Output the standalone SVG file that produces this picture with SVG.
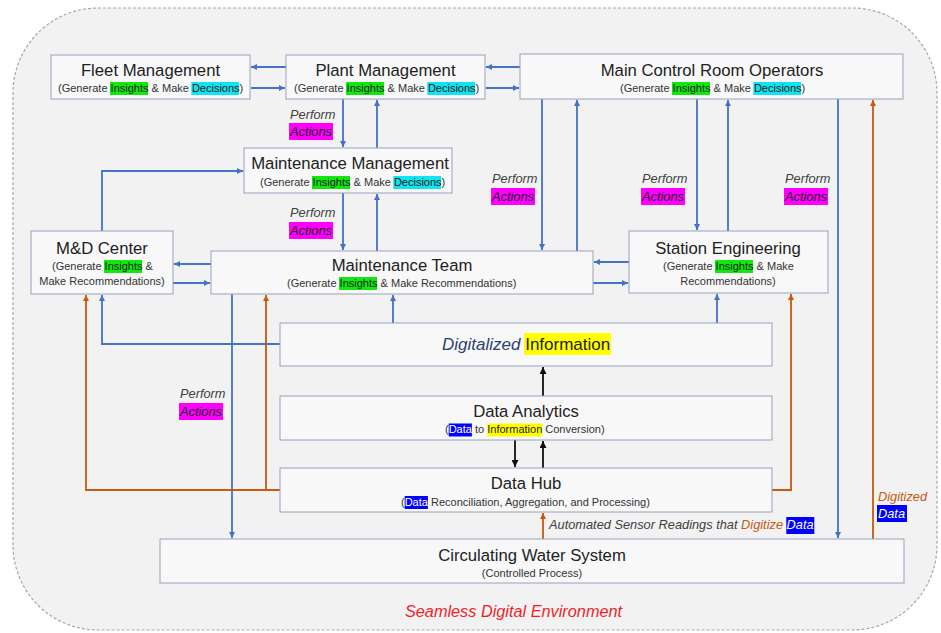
<svg xmlns="http://www.w3.org/2000/svg" width="941" height="633" viewBox="0 0 941 633">
<defs>
<style>
.bg{fill:#f2f2f2;stroke:#a8a8a8;stroke-width:1.2;stroke-dasharray:3 2}
.box{fill:#f8f8f8;stroke:#9aa2bd;stroke-width:1}
text{font-family:"Liberation Sans",Arial,sans-serif}
.t{font-size:16.7px;fill:#222;text-anchor:middle}
.s{font-size:11px;fill:#333}
.sm{font-size:11px;fill:#333;text-anchor:middle}
.lab{font-size:12.8px;font-style:italic;fill:#404040}
.act{fill:#1a1a1a}
.w{fill:#fff}
.hg{fill:#10E810}
.hc{fill:#10E4EE}
.hm{fill:#FF00FF}
.hy{fill:#FFFF00}
.hb{fill:#0000FF}
.b{stroke:#4472C4;stroke-width:1.8;fill:none;marker-end:url(#ab)}
.o{stroke:#C55A11;stroke-width:1.8;fill:none;marker-end:url(#ao)}
.k{stroke:#111;stroke-width:1.8;fill:none;marker-end:url(#ak)}
</style>
<marker id="ab" viewBox="0 0 6 6" refX="6" refY="3" markerWidth="6" markerHeight="6" markerUnits="userSpaceOnUse" orient="auto"><path d="M0,0 L6,3 L0,6 z" fill="#4472C4"/></marker>
<marker id="ao" viewBox="0 0 6 6" refX="6" refY="3" markerWidth="6" markerHeight="6" markerUnits="userSpaceOnUse" orient="auto"><path d="M0,0 L6,3 L0,6 z" fill="#C55A11"/></marker>
<marker id="ak" viewBox="0 0 6 6" refX="6" refY="3" markerWidth="7" markerHeight="7" markerUnits="userSpaceOnUse" orient="auto"><path d="M0,0 L6,3 L0,6 z" fill="#111"/></marker>
</defs>
<rect width="941" height="633" fill="#fff"/>
<rect id="environment" class="bg" x="13" y="8" width="924" height="622" rx="85" ry="85"/>

<g id="connectors">
<path class="b" d="M286,67 H251"/>
<path class="b" d="M251,88 H285"/>
<path class="b" d="M520,67 H486"/>
<path class="b" d="M486,88 H519"/>
<path class="b" d="M343,99 V147"/>
<path class="b" d="M377,148 V100"/>
<path class="b" d="M102,231 V171 H243"/>
<path class="b" d="M343,193 V250"/>
<path class="b" d="M377,251 V194"/>
<path class="b" d="M211,264 H174"/>
<path class="b" d="M173,283 H210"/>
<path class="b" d="M542,99 V250"/>
<path class="b" d="M577,251 V100"/>
<path class="b" d="M697,99 V230"/>
<path class="b" d="M728,231 V100"/>
<path class="b" d="M629,262 H594"/>
<path class="b" d="M593,283 H628"/>
<path class="b" d="M838,99 V538"/>
<path class="b" d="M393,323 V295"/>
<path class="b" d="M717,323 V294"/>
<path class="b" d="M280,344 H102 V295"/>
<path class="b" d="M232,294 V538"/>
<path class="o" d="M280,490 H86 V295"/>
<path class="o" d="M266,490 V295"/>
<path class="o" d="M772,490 H791 V294"/>
<path class="o" d="M543,539 V513"/>
<path class="o" d="M873,539 V100"/>
<path class="k" d="M543,396 V367"/>
<path class="k" d="M515,440 V467"/>
<path class="k" d="M543,468 V441"/>
</g>

<g id="fleet-management">
<rect class="box" x="51" y="55" width="199" height="44"/>
<text class="t" x="150.5" y="76">Fleet Management</text>
<rect class="hg" x="110" y="82" width="38" height="13"/>
<rect class="hc" x="191.3" y="82" width="47.7" height="13"/>
<text class="s" x="58" y="92">(Generate <tspan class="act">Insights</tspan> &amp; Make <tspan class="act">Decisions</tspan>)</text>
</g>

<g id="plant-management">
<rect class="box" x="286" y="55" width="199" height="44"/>
<text class="t" x="385.5" y="76">Plant Management</text>
<rect class="hg" x="346" y="82" width="38" height="13"/>
<rect class="hc" x="427.3" y="82" width="47.7" height="13"/>
<text class="s" x="294" y="92">(Generate <tspan class="act">Insights</tspan> &amp; Make <tspan class="act">Decisions</tspan>)</text>
</g>

<g id="main-control-room">
<rect class="box" x="520" y="54" width="383" height="45"/>
<text class="t" x="712" y="76">Main Control Room Operators</text>
<rect class="hg" x="672" y="82" width="38" height="13"/>
<rect class="hc" x="753.3" y="82" width="47.7" height="13"/>
<text class="s" x="620" y="92">(Generate <tspan class="act">Insights</tspan> &amp; Make <tspan class="act">Decisions</tspan>)</text>
</g>

<g id="maintenance-management">
<rect class="box" x="244" y="148" width="208" height="45"/>
<text class="t" x="350" y="169">Maintenance Management</text>
<rect class="hg" x="312" y="176" width="38" height="13"/>
<rect class="hc" x="393.3" y="176" width="47.7" height="13"/>
<text class="s" x="260" y="186">(Generate <tspan class="act">Insights</tspan> &amp; Make <tspan class="act">Decisions</tspan>)</text>
</g>

<g id="md-center">
<rect class="box" x="31" y="231" width="142" height="63"/>
<text class="t" x="102" y="254">M&amp;D Center</text>
<rect class="hg" x="104" y="260" width="38" height="13"/>
<text class="s" x="52" y="270">(Generate <tspan class="act">Insights</tspan> &amp;</text>
<text class="sm" x="102" y="285">Make Recommendations)</text>
</g>

<g id="maintenance-team">
<rect class="box" x="211" y="251" width="382" height="43"/>
<text class="t" x="402" y="271">Maintenance Team</text>
<rect class="hg" x="339" y="277" width="38" height="13"/>
<text class="s" x="287" y="287">(Generate <tspan class="act">Insights</tspan> &amp; Make Recommendations)</text>
</g>

<g id="station-engineering">
<rect class="box" x="629" y="231" width="199" height="62"/>
<text class="t" x="728" y="254">Station Engineering</text>
<rect class="hg" x="715" y="260" width="38" height="13"/>
<text class="s" x="663" y="270">(Generate <tspan class="act">Insights</tspan> &amp; Make</text>
<text class="sm" x="728" y="285">Recommendations)</text>
</g>

<g id="digitalized-information">
<rect class="box" x="280" y="323" width="492" height="43"/>
<rect class="hy" x="524" y="333" width="87" height="22"/>
<text x="442" y="350" style="font-size:17px"><tspan style="font-style:italic;fill:#2E4170">Digitalized</tspan><tspan fill="#222"> Information</tspan></text>
</g>

<g id="data-analytics">
<rect class="box" x="280" y="396" width="492" height="44"/>
<text class="t" x="526" y="417">Data Analytics</text>
<rect class="hb" x="448.7" y="423.5" width="23.2" height="13"/>
<rect class="hy" x="487.2" y="423.5" width="55" height="13"/>
<text class="s" x="445" y="433">(<tspan class="w">Data</tspan> to <tspan class="act">Information</tspan> Conversion)</text>
</g>

<g id="data-hub">
<rect class="box" x="280" y="468" width="492" height="44"/>
<text class="t" x="526" y="489">Data Hub</text>
<rect class="hb" x="404.7" y="496" width="23.2" height="13"/>
<text class="s" x="401" y="506">(<tspan class="w">Data</tspan> Reconciliation, Aggregation, and Processing)</text>
</g>

<g id="circulating-water-system">
<rect class="box" x="160" y="539" width="744" height="44"/>
<text class="t" x="532" y="561">Circulating Water System</text>
<text class="sm" x="532" y="577">(Controlled Process)</text>
</g>

<g id="labels">
<text class="lab" x="290" y="119">Perform</text>
<rect class="hm" x="289" y="123" width="44" height="17"/>
<text class="lab act" x="290" y="136">Actions</text>

<text class="lab" x="290" y="217">Perform</text>
<rect class="hm" x="289" y="222" width="44" height="17"/>
<text class="lab act" x="290" y="235">Actions</text>

<text class="lab" x="492" y="183">Perform</text>
<rect class="hm" x="491" y="188" width="44" height="17"/>
<text class="lab act" x="492" y="201">Actions</text>

<text class="lab" x="642" y="183">Perform</text>
<rect class="hm" x="641" y="188" width="44" height="17"/>
<text class="lab act" x="642" y="201">Actions</text>

<text class="lab" x="785" y="183">Perform</text>
<rect class="hm" x="784" y="188" width="44" height="17"/>
<text class="lab act" x="785" y="201">Actions</text>

<text class="lab" x="180" y="398">Perform</text>
<rect class="hm" x="179" y="403" width="44" height="17"/>
<text class="lab act" x="180" y="416">Actions</text>

<rect class="hb" x="786.3" y="517" width="28" height="17"/>
<text class="lab" x="549" y="529">Automated Sensor Readings that <tspan fill="#C55A11">Digitize</tspan> <tspan class="w">Data</tspan></text>

<text class="lab" x="878" y="501" fill="#C55A11" style="fill:#C55A11">Digitized</text>
<rect class="hb" x="877" y="505" width="30" height="17"/>
<text class="lab w" x="878" y="518">Data</text>

<text x="513.5" y="617" style="font-size:16.3px;font-style:italic;fill:#F01E28;text-anchor:middle">Seamless Digital Environment</text>
</g>
</svg>
